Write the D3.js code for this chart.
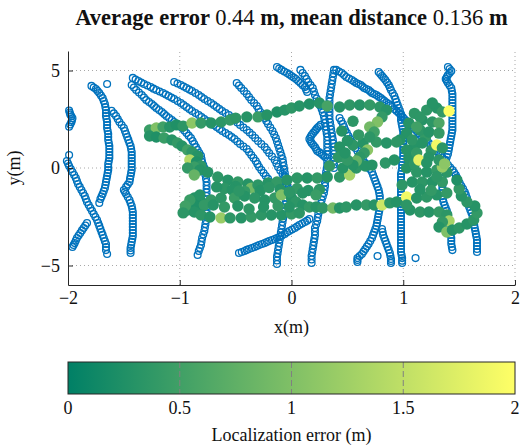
<!DOCTYPE html>
<html>
<head>
<meta charset="utf-8">
<script src="https://cdn.jsdelivr.net/npm/d3@7"></script>
<style>
  body { margin: 0; background: #fff; }
  svg text { font-family: "Liberation Serif", "Times New Roman", serif; fill: #111; }
</style>
</head>
<body>
<div id="chart"></div>
<script>
'use strict';

// ground-truth trajectories, [x, y] in metres
var trackA = [[-1.99,2.95],[-1.985,2.85],[-1.98,2.75],[-1.97,2.65],[-1.96,2.55],[-1.965,2.45],[-1.97,2.35],[-1.98,2.23],[-1.99,2.12]];
var trackB = [[-1.99,0.67],[-2.01,0.36],[-2.0,0.23],[-1.99,0.10],[-1.975,-0.05],[-1.96,-0.21],[-1.945,-0.36],[-1.93,-0.51],[-1.92,-0.67],[-1.91,-0.82],[-1.895,-0.97],[-1.88,-1.13],[-1.865,-1.28],[-1.85,-1.44],[-1.84,-1.59],[-1.83,-1.74],[-1.815,-1.9],[-1.80,-2.05],[-1.785,-2.2],[-1.77,-2.36],[-1.755,-2.51],[-1.74,-2.67],[-1.73,-2.82],[-1.72,-2.97],[-1.71,-3.13],[-1.70,-3.28],[-1.69,-3.43],[-1.68,-3.59],[-1.67,-3.75],[-1.66,-3.90],[-1.66,-4.05],[-1.66,-4.21],[-1.65,-4.41]];
var trackC = [[-1.83,-2.82],[-1.845,-2.95],[-1.86,-3.08],[-1.875,-3.2],[-1.89,-3.33],[-1.905,-3.46],[-1.92,-3.59],[-1.93,-3.72],[-1.94,-3.85],[-1.95,-3.95],[-1.96,-4.05]];
var trackD = [[-1.79,4.21],[-1.77,4.13],[-1.75,4.05],[-1.735,3.95],[-1.72,3.85],[-1.705,3.72],[-1.69,3.59],[-1.68,3.43],[-1.67,3.28],[-1.665,3.12],[-1.66,2.97],[-1.66,2.82],[-1.66,2.67],[-1.655,2.51],[-1.65,2.36],[-1.65,2.2],[-1.65,2.05],[-1.645,1.9],[-1.64,1.74],[-1.64,1.59],[-1.64,1.44],[-1.635,1.28],[-1.63,1.13],[-1.63,0.97],[-1.63,0.82],[-1.63,0.66],[-1.63,0.51],[-1.635,0.36],[-1.64,0.21],[-1.64,0.05],[-1.64,-0.10],[-1.645,-0.25],[-1.65,-0.41],[-1.655,-0.56],[-1.66,-0.72],[-1.665,-0.87],[-1.67,-1.03],[-1.68,-1.18],[-1.69,-1.33],[-1.70,-1.46],[-1.71,-1.59],[-1.72,-1.79]];
var trackE = [[-1.61,2.93],[-1.59,2.8],[-1.57,2.67],[-1.555,2.51],[-1.54,2.36],[-1.52,2.2],[-1.50,2.05],[-1.49,1.9],[-1.48,1.74],[-1.47,1.59],[-1.46,1.44],[-1.45,1.28],[-1.44,1.13],[-1.435,0.97],[-1.43,0.82],[-1.43,0.66],[-1.43,0.51],[-1.43,0.36],[-1.43,0.21],[-1.43,0.05],[-1.43,-0.10],[-1.435,-0.25],[-1.44,-0.41],[-1.445,-0.56],[-1.45,-0.72],[-1.465,-0.85],[-1.48,-0.97],[-1.50,-1.13],[-1.49,-1.23],[-1.48,-1.33],[-1.465,-1.49],[-1.45,-1.64],[-1.44,-1.8],[-1.43,-1.95],[-1.425,-2.1],[-1.42,-2.26],[-1.42,-2.41],[-1.42,-2.56],[-1.42,-2.72],[-1.42,-2.87],[-1.42,-3.02],[-1.42,-3.18],[-1.42,-3.33],[-1.42,-3.49],[-1.425,-3.64],[-1.43,-3.79],[-1.435,-3.95],[-1.44,-4.10],[-1.44,-4.23],[-1.44,-4.36]];
var trackU1 = [[-1.42,4.62],[-1.395,4.54],[-1.37,4.46],[-1.345,4.38],[-1.32,4.31],[-1.29,4.23],[-1.26,4.15],[-1.235,4.07],[-1.21,4.0],[-1.18,3.92],[-1.15,3.85],[-1.125,3.77],[-1.10,3.69],[-1.075,3.61],[-1.05,3.54],[-1.02,3.43],[-0.99,3.33],[-0.965,3.23],[-0.94,3.13],[-0.915,3.02],[-0.89,2.92],[-0.86,2.82],[-0.83,2.72],[-0.805,2.61],[-0.78,2.51],[-0.75,2.41],[-0.72,2.31],[-0.695,2.2],[-0.67,2.10],[-0.645,2.0],[-0.62,1.90],[-0.59,1.79],[-0.56,1.69],[-0.535,1.59],[-0.51,1.49],[-0.485,1.36],[-0.46,1.23],[-0.43,1.1],[-0.40,0.97],[-0.38,0.82],[-0.36,0.67],[-0.34,0.51],[-0.32,0.36],[-0.305,0.2],[-0.29,0.05],[-0.27,-0.1],[-0.25,-0.26],[-0.23,-0.41],[-0.21,-0.56],[-0.195,-0.72],[-0.18,-0.87]];
var trackU2 = [[-1.43,4.26],[-1.41,4.13],[-1.39,4.0],[-1.365,3.87],[-1.34,3.74],[-1.32,3.61],[-1.30,3.49],[-1.275,3.38],[-1.25,3.28],[-1.23,3.18],[-1.21,3.08],[-1.185,2.97],[-1.16,2.87],[-1.14,2.77],[-1.12,2.67],[-1.095,2.56],[-1.07,2.46],[-1.05,2.36],[-1.03,2.26],[-1.005,2.15],[-0.98,2.05],[-0.96,1.92],[-0.94,1.79],[-0.92,1.66],[-0.90,1.54],[-0.885,1.38],[-0.87,1.23],[-0.855,1.07],[-0.84,0.92],[-0.825,0.77],[-0.81,0.62],[-0.805,0.46],[-0.80,0.31],[-0.79,0.15],[-0.78,0],[-0.775,-0.18],[-0.77,-0.36],[-0.765,-0.54],[-0.76,-0.72],[-0.76,-0.9],[-0.76,-1.08],[-0.76,-1.26],[-0.76,-1.44],[-0.76,-1.62],[-0.76,-1.79],[-0.76,-1.97],[-0.76,-2.15],[-0.76,-2.33],[-0.76,-2.51],[-0.765,-2.69],[-0.77,-2.87],[-0.775,-3.05],[-0.78,-3.23],[-0.79,-3.41],[-0.80,-3.59],[-0.805,-3.77],[-0.81,-3.95],[-0.82,-4.1],[-0.83,-4.26],[-0.84,-4.46]];
var trackU3 = [[-1.05,4.41],[-1.02,4.33],[-0.99,4.26],[-0.965,4.18],[-0.94,4.10],[-0.915,4.02],[-0.89,3.95],[-0.86,3.85],[-0.83,3.74],[-0.805,3.64],[-0.78,3.54],[-0.75,3.43],[-0.72,3.33],[-0.695,3.23],[-0.67,3.13],[-0.645,3.02],[-0.62,2.92],[-0.59,2.82],[-0.56,2.72],[-0.535,2.59],[-0.51,2.46],[-0.485,2.33],[-0.46,2.21],[-0.43,2.08],[-0.40,1.95],[-0.375,1.82],[-0.35,1.69],[-0.325,1.54],[-0.30,1.38],[-0.27,1.23],[-0.24,1.08],[-0.22,0.92],[-0.20,0.77],[-0.175,0.59],[-0.15,0.41],[-0.135,0.23],[-0.12,0.05],[-0.10,-0.13],[-0.08,-0.31],[-0.065,-0.49],[-0.05,-0.67],[-0.04,-0.85],[-0.03,-1.03],[-0.015,-1.2],[0,-1.38]];
var trackS = [[-0.49,4.36],[-0.47,4.23],[-0.45,4.10],[-0.425,3.95],[-0.40,3.79],[-0.38,3.64],[-0.36,3.49],[-0.335,3.33],[-0.31,3.18],[-0.295,3.02],[-0.28,2.87],[-0.26,2.71],[-0.24,2.56],[-0.225,2.41],[-0.21,2.26],[-0.19,2.08],[-0.17,1.90],[-0.155,1.72],[-0.14,1.54],[-0.13,1.36],[-0.12,1.18],[-0.11,1.0],[-0.10,0.82],[-0.09,0.64],[-0.08,0.46],[-0.075,0.28],[-0.07,0.10],[-0.065,-0.08],[-0.06,-0.26],[-0.055,-0.44],[-0.05,-0.62],[-0.05,-0.8],[-0.05,-0.97],[-0.05,-1.15],[-0.05,-1.33],[-0.05,-1.51],[-0.05,-1.69],[-0.055,-1.87],[-0.06,-2.05],[-0.065,-2.23],[-0.07,-2.41],[-0.075,-2.59],[-0.08,-2.77],[-0.085,-2.95],[-0.09,-3.13],[-0.095,-3.31],[-0.10,-3.49],[-0.105,-3.67],[-0.11,-3.85],[-0.115,-4.03],[-0.12,-4.21],[-0.125,-4.39],[-0.13,-4.56],[-0.13,-4.74],[-0.13,-4.92]];
var trackL = [[-0.47,-4.36],[-0.445,-4.31],[-0.42,-4.26],[-0.40,-4.2],[-0.38,-4.15],[-0.355,-4.1],[-0.33,-4.05],[-0.31,-4.0],[-0.29,-3.95],[-0.265,-3.9],[-0.24,-3.85],[-0.22,-3.8],[-0.20,-3.74],[-0.175,-3.69],[-0.15,-3.64],[-0.13,-3.59],[-0.11,-3.54],[-0.085,-3.46],[-0.06,-3.38],[-0.04,-3.3],[-0.02,-3.23],[0.005,-3.15],[0.03,-3.08],[0.05,-3.0],[0.07,-2.92],[0.095,-2.85],[0.12,-2.77],[0.14,-2.7],[0.16,-2.62]];
var trackP = [[-0.13,5.18],[-0.11,5.1],[-0.09,5.03],[-0.065,4.95],[-0.04,4.87],[-0.02,4.8],[0,4.72],[0.02,4.64],[0.04,4.56],[0.06,4.46],[0.08,4.36],[0.10,4.25],[0.12,4.15],[0.13,4.02],[0.14,3.90]];
var trackQ = [[0.08,5.03],[0.10,4.87],[0.12,4.72],[0.135,4.56],[0.15,4.41],[0.17,4.25],[0.19,4.10],[0.20,3.92],[0.21,3.74],[0.225,3.56],[0.24,3.38],[0.255,3.2],[0.27,3.03],[0.28,2.85],[0.29,2.67],[0.295,2.49],[0.30,2.31],[0.305,2.13],[0.31,1.95],[0.315,1.77],[0.32,1.59],[0.32,1.41],[0.32,1.23],[0.32,1.05],[0.32,0.87],[0.32,0.69],[0.32,0.51],[0.32,0.33],[0.32,0.15],[0.315,-0.03],[0.31,-0.21],[0.305,-0.39],[0.30,-0.56],[0.30,-0.74],[0.30,-0.92],[0.295,-1.1],[0.29,-1.28],[0.28,-1.46],[0.27,-1.64],[0.265,-1.82],[0.26,-2.0],[0.25,-2.18],[0.24,-2.36],[0.235,-2.54],[0.23,-2.72],[0.22,-2.9],[0.21,-3.08],[0.21,-3.26],[0.21,-3.44],[0.205,-3.62],[0.20,-3.79],[0.195,-3.97],[0.19,-4.15],[0.185,-4.33],[0.18,-4.51],[0.18,-4.69],[0.18,-4.87]];
var trackV = [[0.38,5.03],[0.375,4.85],[0.37,4.67],[0.365,4.49],[0.36,4.31],[0.355,4.13],[0.35,3.95],[0.345,3.77],[0.34,3.59],[0.34,3.41],[0.34,3.23],[0.34,3.05],[0.34,2.87],[0.34,2.69],[0.34,2.51],[0.345,2.33],[0.35,2.15],[0.355,1.97],[0.36,1.79],[0.365,1.61],[0.37,1.44],[0.375,1.26],[0.38,1.08],[0.38,0.9],[0.38,0.72],[0.38,0.54],[0.38,0.36],[0.38,0.18],[0.38,0]];
var trackHook = [[0.26,2.21],[0.245,2.13],[0.23,2.05],[0.22,1.97],[0.21,1.90],[0.195,1.8],[0.18,1.69],[0.17,1.59],[0.16,1.49],[0.17,1.38],[0.18,1.28],[0.195,1.18],[0.21,1.08],[0.22,0.97],[0.23,0.87],[0.25,0.8],[0.27,0.72],[0.285,0.64],[0.30,0.56]];
var trackR = [[0.40,5.03],[0.425,4.95],[0.45,4.87],[0.47,4.77],[0.49,4.67],[0.515,4.59],[0.54,4.51],[0.56,4.43],[0.58,4.36],[0.60,4.31],[0.62,4.26],[0.635,4.18],[0.65,4.10],[0.67,4.05],[0.69,4.0],[0.705,3.92],[0.72,3.85],[0.74,3.79],[0.76,3.74],[0.78,3.66],[0.80,3.59],[0.815,3.51],[0.83,3.44],[0.85,3.36],[0.87,3.28],[0.885,3.2],[0.90,3.13],[0.92,3.02],[0.94,2.92],[0.96,2.82],[0.98,2.72],[0.995,2.61],[1.01,2.51],[1.03,2.41],[1.05,2.31],[1.065,2.2],[1.08,2.10],[1.10,2.0],[1.12,1.90],[1.135,1.79],[1.15,1.69],[1.17,1.59],[1.19,1.49],[1.21,1.38],[1.23,1.28],[1.245,1.18],[1.26,1.08],[1.28,0.97],[1.30,0.87],[1.315,0.77],[1.33,0.67],[1.35,0.54],[1.37,0.41],[1.385,0.28],[1.40,0.15],[1.42,0.02],[1.44,-0.10],[1.455,-0.23],[1.47,-0.36],[1.48,-0.49],[1.49,-0.62],[1.505,-0.77],[1.52,-0.92],[1.535,-1.07],[1.55,-1.23],[1.56,-1.38],[1.57,-1.54],[1.575,-1.69],[1.58,-1.85],[1.59,-2.0],[1.60,-2.15],[1.61,-2.3],[1.62,-2.46],[1.625,-2.61],[1.63,-2.77],[1.635,-2.92],[1.64,-3.08],[1.645,-3.23],[1.65,-3.38],[1.655,-3.53],[1.66,-3.69],[1.66,-3.84],[1.66,-4.0],[1.66,-4.15],[1.66,-4.31]];
var trackW = [[0.78,4.92],[0.795,4.82],[0.81,4.72],[0.825,4.61],[0.84,4.51],[0.855,4.38],[0.87,4.26],[0.88,4.13],[0.89,4.0],[0.905,3.85],[0.92,3.69],[0.93,3.53],[0.94,3.38],[0.95,3.23],[0.96,3.08],[0.97,2.92],[0.98,2.77],[0.98,2.61],[0.98,2.46],[0.985,2.3],[0.99,2.15],[0.995,2.0],[1.0,1.85],[1.0,1.69],[1.0,1.54],[1.0,1.38],[1.0,1.23],[1.0,1.07],[1.0,0.92],[1.0,0.77],[1.0,0.62],[0.995,0.46],[0.99,0.31],[0.99,0.15],[0.99,0],[0.985,-0.15],[0.98,-0.31],[0.98,-0.46],[0.98,-0.62],[0.98,-0.77],[0.98,-0.92],[0.98,-1.07],[0.98,-1.23],[0.98,-1.38],[0.98,-1.54],[0.98,-1.69],[0.98,-1.85],[0.98,-2.0],[0.98,-2.15],[0.98,-2.3],[0.98,-2.46],[0.98,-2.61],[0.98,-2.77],[0.98,-2.92],[0.98,-3.08],[0.98,-3.23],[0.98,-3.38],[0.98,-3.53],[0.98,-3.69],[0.98,-3.84],[0.98,-4.0],[0.98,-4.15],[0.98,-4.31],[0.985,-4.46],[0.99,-4.62],[0.99,-4.75],[0.99,-4.87]];
var trackT = [[0.43,2.56],[0.445,2.41],[0.46,2.26],[0.47,2.1],[0.48,1.95],[0.495,1.8],[0.51,1.64],[0.525,1.49],[0.54,1.33],[0.555,1.18],[0.57,1.03],[0.59,0.87],[0.61,0.72],[0.625,0.56],[0.64,0.41],[0.66,0.25],[0.68,0.10],[0.70,-0.05],[0.72,-0.21],[0.73,-0.36],[0.74,-0.51],[0.75,-0.67],[0.76,-0.82],[0.77,-0.97],[0.78,-1.13],[0.785,-1.28],[0.79,-1.44],[0.79,-1.59],[0.79,-1.74],[0.79,-1.9],[0.79,-2.05],[0.785,-2.2],[0.78,-2.36],[0.775,-2.51],[0.77,-2.67],[0.765,-2.82],[0.76,-2.97],[0.75,-3.13],[0.74,-3.28],[0.73,-3.43],[0.72,-3.59],[0.705,-3.74],[0.69,-3.90],[0.675,-4.03],[0.66,-4.15],[0.645,-4.28],[0.63,-4.41],[0.61,-4.51],[0.59,-4.62],[0.59,-4.72],[0.59,-4.82]];
var trackSS = [[0.81,-3.13],[0.815,-3.28],[0.82,-3.44],[0.83,-3.59],[0.84,-3.74],[0.85,-3.9],[0.86,-4.05],[0.87,-4.2],[0.88,-4.36],[0.885,-4.51],[0.89,-4.67],[0.89,-4.77],[0.89,-4.87]];
var trackZ = [[1.40,5.18],[1.415,5.08],[1.43,4.97],[1.415,4.87],[1.40,4.77],[1.39,4.67],[1.38,4.56],[1.39,4.46],[1.40,4.36],[1.415,4.23],[1.43,4.10],[1.435,3.95],[1.44,3.79],[1.44,3.64],[1.44,3.49],[1.44,3.33],[1.44,3.18],[1.44,3.02],[1.44,2.87],[1.44,2.71],[1.44,2.56],[1.44,2.41],[1.44,2.26],[1.44,2.1],[1.44,1.95],[1.435,1.8],[1.43,1.64],[1.425,1.49],[1.42,1.33],[1.415,1.18],[1.41,1.03],[1.405,0.87],[1.40,0.72],[1.39,0.56],[1.38,0.41],[1.375,0.25],[1.37,0.10],[1.365,-0.05],[1.36,-0.21],[1.355,-0.36],[1.35,-0.51],[1.35,-0.67],[1.35,-0.82],[1.35,-0.97],[1.35,-1.13],[1.35,-1.28],[1.35,-1.44],[1.355,-1.59],[1.36,-1.74],[1.37,-1.9],[1.38,-2.05],[1.39,-2.2],[1.40,-2.36],[1.40,-2.51],[1.40,-2.67],[1.405,-2.82],[1.41,-2.97],[1.415,-3.13],[1.42,-3.28],[1.425,-3.43],[1.43,-3.59],[1.43,-3.74],[1.43,-3.90],[1.435,-4.05],[1.44,-4.21]];
var singles = [[-1.65,4.31],[0.77,-4.51],[1.11,-4.62]];

var tracks = [trackA, trackB, trackC, trackD, trackE, trackU1, trackU2, trackU3, trackS, trackL,
  trackP, trackQ, trackV, trackHook, trackR, trackW, trackT, trackSS, trackZ, singles];

// estimated positions, [x, y, localization error]
var estUpper = [[-1.27,1.95,0.45],[-1.21,2.05,1.0],[-1.15,2.10,0.5],[-1.09,2.10,0.3],[-1.03,2.21,0.25],[-0.97,2.15,0.35],[-0.89,2.31,1.1],[-0.81,2.31,0.4],[-0.72,2.31,0.3],[-0.63,2.36,0.35],[-0.55,2.46,0.4],[-0.50,2.56,0.35],[-0.40,2.62,0.3],[-0.30,2.62,0.45],[-0.22,2.72,0.3],[-0.13,2.87,0.25],[-0.06,2.97,0.3],[0,3.08,0.35],[0.07,3.18,0.3],[0.16,3.28,0.25],[0.25,3.33,0.3],[0.32,3.18,0.55],[0.43,3.13,0.3],[0.52,3.23,0.35],[0.61,3.23,0.3],[0.70,3.23,0.4],[0.79,3.13,0.35],[0.85,2.97,0.3]];
var estLeft = [[-1.27,1.64,0.3],[-1.21,1.59,0.25],[-1.14,1.54,0.45],[-1.07,1.44,0.3],[-1.02,1.28,0.4],[-0.98,1.13,0.3],[-0.93,0.92,0.5],[-0.89,0.82,0.35],[-0.84,0.62,0.3],[-0.91,0.41,1.4],[-0.85,0.31,0.25],[-0.81,0.10,0.35],[-0.87,0.05,0.45],[-0.82,-0.10,0.3]];
var estMiddle = [[-0.93,0,0.4],[-0.87,-0.36,0.8],[-0.75,-0.21,0.3],[-0.66,-0.46,0.35],[-0.57,-0.62,0.3],[-0.48,-0.72,0.4],[-0.39,-0.82,0.3],[-0.36,-1.03,0.9],[-0.30,-0.87,0.35],[-0.21,-0.77,0.3],[-0.13,-0.72,0.4],[-0.04,-0.62,0.3],[0.05,-0.51,0.35],[0.14,-0.51,0.3],[0.23,-0.51,0.4],[0.32,-0.46,0.3],[0.43,-0.46,0.35],[0.52,-0.36,1.3],[0.46,0,0.3],[0.34,0.10,0.4],[0.58,0,0.35],[0.66,0.10,0.3],[0.72,0.15,0.3],[0.84,0.26,0.35],[0.92,0.41,0.3],
  [-0.6,-1.05,0.35],[-0.5,-0.95,0.3],[-0.42,-1.2,0.4],[-0.28,-1.15,0.3],[-0.2,-1.0,0.35],[-0.1,-1.1,0.3],[0.05,-1.05,0.4],[0.15,-1.15,0.3],[0.25,-1.1,0.35]];
var estLower = [[-0.87,-1.54,0.3],[-0.81,-1.74,0.25],[-0.72,-1.64,0.4],[-0.63,-1.54,0.35],[-0.53,-1.13,0.3],[-0.51,-1.54,0.45],[-0.42,-1.44,0.3],[-0.33,-1.54,0.35],[-0.24,-1.64,0.3],[-0.15,-1.54,0.4],[-0.09,-1.38,1.0],[0,-1.54,0.3],[0.04,-1.74,0.35],[0.10,-1.90,0.3],[0.16,-2.0,0.4],[0.22,-2.0,0.3],[0.28,-2.05,0.35],[0.37,-2.05,0.9],[0.43,-2.05,0.3],[0.49,-2.0,0.35],[0.58,-1.90,0.3],[0.67,-1.90,0.4],[0.74,-1.90,0.3],[0.81,-1.90,1.6],[0.88,-1.79,0.35],[0.94,-1.74,0.3],[1.03,-1.49,1.9],[0.10,-1.28,0.3],[0.22,-1.38,0.45],[-0.02,-1.23,0.35],[-0.67,-0.97,0.3],[-0.47,-1.18,0.35]];
var estBottom = [[-0.93,-2.15,0.35],[-0.89,-1.95,0.3],[-0.84,-2.0,0.25],[-0.78,-1.90,0.4],[-0.87,-2.26,0.3],[-0.81,-2.41,0.35],[-0.91,-1.64,0.45],[-0.82,-1.38,0.3],[-0.73,-2.51,0.3],[-0.63,-2.56,1.2],[-0.55,-2.56,0.35],[-0.45,-2.56,0.3],[-0.36,-2.51,0.4],[-0.27,-2.41,0.35],[-0.18,-2.41,0.3],[-0.09,-2.41,0.3],[0,-2.36,0.4],[0.07,-2.31,0.35],
  [-0.7,-1.9,0.3],[-0.6,-2.0,0.4],[-0.48,-1.95,0.3],[-0.38,-2.1,0.35],[-0.25,-2.0,0.3],[-0.12,-1.95,0.4],[-0.02,-2.0,0.3],[-0.95,-1.95,0.5],[-0.97,-2.3,0.35]];
var estLoop = [[1.06,-2.15,0.3],[1.15,-2.26,0.35],[1.23,-2.26,0.3],[1.32,-2.26,0.4],[1.39,-2.41,0.35],[1.41,-2.72,1.3],[1.35,-2.77,0.4],[1.32,-3.03,0.3],[1.39,-3.28,1.0],[1.44,-3.18,0.3],[1.50,-3.08,0.35],[1.57,-2.87,0.3],[1.63,-2.67,0.35],[1.66,-2.31,0.4],[1.64,-1.95,0.3],[1.57,-1.74,0.35],[1.52,-1.44,0.3],[1.50,-1.08,0.4],[1.48,-0.62,0.25]];
var estRight = [[1.03,-1.90,0.35],[1.12,-1.54,0.3],[1.21,-1.49,0.35],[1.30,-1.38,0.3],[1.39,-1.28,0.4],[0.99,-0.87,0.35],[1.08,-0.72,0.3],[1.17,-0.72,0.35],[1.26,-0.72,0.3],[1.35,-0.72,0.4],[1.03,0,0.3],[1.12,-0.21,0.35],[1.21,-0.21,0.3],[1.30,-0.10,0.4],[1.39,-0.21,0.35],[1.35,0.05,1.2],
  [1.1,2.8,0.35],[1.05,2.3,0.3],[1.2,1.6,0.4],[1.1,1.1,0.3],[1.25,0.9,0.35],[1.05,0.5,0.3],[1.3,-0.45,0.35],[1.15,-1.1,0.3],[1.25,-1.15,0.4],[1.1,0.2,0.35],
  [1.21,2.97,0.35],[1.30,3.08,0.3],[1.35,2.87,0.4],[1.41,2.92,2.0],[1.17,2.46,0.3],[1.26,2.36,0.35],[1.32,2.31,0.6],[1.15,1.95,0.35],[1.23,1.85,0.3],[1.32,1.79,0.4],[1.03,1.79,0.3],[1.08,1.44,0.35],[1.17,1.28,0.3],[1.30,1.18,1.9],[1.35,1.03,0.35],[1.03,0.92,0.3],[1.12,0.77,0.4],[1.14,0.41,1.8],[1.23,0.56,0.3],[1.32,0.41,0.35],[1.37,0.21,1.1],[1.21,0.26,0.3],[1.26,3.33,0.3],[1.15,2.62,0.35],[1.12,2.10,0.5],[0.97,1.44,0.3]];
var estCentre = [[0.43,1.08,0.3],[0.55,1.18,0.35],[0.64,1.28,0.3],[0.76,1.33,0.4],[0.85,1.28,0.3],[0.94,1.33,0.35],[0.45,1.9,0.3],[0.55,2.4,0.35],[0.6,1.7,0.4],[0.5,1.4,0.3],[0.42,0.55,0.35],
  [0.81,2.62,0.4],[0.77,2.36,1.0],[0.70,2.10,0.9],[0.74,1.85,0.5],[0.70,1.59,0.35],[0.68,0.92,1.1],[0.65,0.77,0.4],[0.61,0.56,0.35],[0.58,0.36,0.8],[0.55,0.15,0.3],[0.50,0.41,0.4],[0.48,0.77,0.3]];

var estimates = [].concat(estUpper, estLeft, estMiddle, estLower, estBottom, estLoop, estRight, estCentre);

var xTicks = [-2, -1, 0, 1, 2];
var yTicks = [-5, 0, 5];
var errTicks = [0, 0.5, 1, 1.5, 2];

var W = 520, H = 448;
var margin = {left: 68, right: 5, top: 51, bottom: 163};
var fmt = function(d){ return d < 0 ? '\u2212' + Math.abs(d) : String(d); };

var svg = d3.select('#chart').append('svg')
  .attr('width', W)
  .attr('height', H);

var x = d3.scaleLinear().domain([-2, 2]).range([margin.left, W - margin.right]);
var y = d3.scaleLinear().domain([-6, 6]).range([H - margin.bottom, margin.top]);
var color = d3.scaleLinear().domain([0, 2]).range(['rgb(0,128,102)', 'rgb(255,255,102)']).clamp(true);

// grid
svg.append('g').selectAll('line').data(xTicks.slice(1)).enter().append('line')
  .attr('x1', function(d){ return x(d); }).attr('x2', function(d){ return x(d); })
  .attr('y1', y(-6)).attr('y2', y(6))
  .attr('stroke', '#a8a8a8').attr('stroke-dasharray', '1,3');
svg.append('g').selectAll('line').data(yTicks).enter().append('line')
  .attr('x1', x(-2)).attr('x2', x(2))
  .attr('y1', function(d){ return y(d); }).attr('y2', function(d){ return y(d); })
  .attr('stroke', '#a8a8a8').attr('stroke-dasharray', '1,3');

// ground truth
svg.append('g').selectAll('circle').data(d3.merge(tracks)).enter().append('circle')
  .attr('cx', function(d){ return x(d[0]); })
  .attr('cy', function(d){ return y(d[1]); })
  .attr('r', 3.4)
  .attr('fill', 'none')
  .attr('stroke', '#0072bd')
  .attr('stroke-width', 1.3);

// estimates
svg.append('g').selectAll('circle').data(estimates).enter().append('circle')
  .attr('cx', function(d){ return x(d[0]); })
  .attr('cy', function(d){ return y(d[1]); })
  .attr('r', 5.7)
  .attr('fill', function(d){ return color(d[2]); });

// axes
var xAxis = svg.append('g')
  .attr('transform', 'translate(0,' + y(-6) + ')')
  .call(d3.axisBottom(x).tickValues(xTicks).tickSizeInner(-5).tickSizeOuter(0).tickPadding(6).tickFormat(fmt));
var yAxis = svg.append('g')
  .attr('transform', 'translate(' + x(-2) + ',0)')
  .call(d3.axisLeft(y).tickValues(yTicks).tickSizeInner(-5).tickSizeOuter(0).tickPadding(8).tickFormat(fmt));
[xAxis, yAxis].forEach(function(a){
  a.select('.domain').attr('stroke', '#262626');
  a.selectAll('.tick line').attr('stroke', '#262626');
  a.selectAll('.tick text').style('font-family', '"Liberation Serif", serif').style('font-size', '18px').attr('fill', '#111');
});

svg.append('text')
  .attr('x', (x(-2) + x(2)) / 2).attr('y', 333)
  .attr('text-anchor', 'middle').style('font-size', '18px')
  .text('x(m)');
svg.append('text')
  .attr('transform', 'translate(20,' + y(0) + ') rotate(-90)')
  .attr('text-anchor', 'middle').style('font-size', '18px')
  .text('y(m)');

// title
var title = svg.append('text')
  .attr('x', (x(-2) + x(2)) / 2).attr('y', 25)
  .attr('text-anchor', 'middle')
  .style('font-size', '22.5px').style('font-weight', 'bold');
title.append('tspan').text('Average error ');
title.append('tspan').style('font-weight', 'normal').text('0.44');
title.append('tspan').text(' m, mean distance ');
title.append('tspan').style('font-weight', 'normal').text('0.136');
title.append('tspan').text(' m');

// colorbar
var cbTop = 362, cbH = 32;
var grad = svg.append('defs').append('linearGradient').attr('id', 'summer');
grad.append('stop').attr('offset', '0%').attr('stop-color', color(0));
grad.append('stop').attr('offset', '100%').attr('stop-color', color(2));

var cx = d3.scaleLinear().domain([0, 2]).range([x(-2), x(2)]);
svg.append('rect')
  .attr('x', cx(0)).attr('y', cbTop)
  .attr('width', cx(2) - cx(0)).attr('height', cbH)
  .attr('fill', 'url(#summer)');
svg.append('g').selectAll('line').data(errTicks.slice(1, -1)).enter().append('line')
  .attr('x1', function(d){ return cx(d); }).attr('x2', function(d){ return cx(d); })
  .attr('y1', cbTop).attr('y2', cbTop + cbH)
  .attr('stroke', '#808080').attr('stroke-dasharray', '6,3');
svg.append('rect')
  .attr('x', cx(0)).attr('y', cbTop)
  .attr('width', cx(2) - cx(0)).attr('height', cbH)
  .attr('fill', 'none').attr('stroke', '#262626');
svg.append('g').selectAll('text').data(errTicks).enter().append('text')
  .attr('x', function(d){ return cx(d); }).attr('y', 414)
  .attr('text-anchor', 'middle').style('font-size', '18px')
  .text(function(d){ return d; });
svg.append('text')
  .attr('x', cx(1)).attr('y', 441)
  .attr('text-anchor', 'middle').style('font-size', '18px')
  .text('Localization error (m)');
</script>
</body>
</html>
